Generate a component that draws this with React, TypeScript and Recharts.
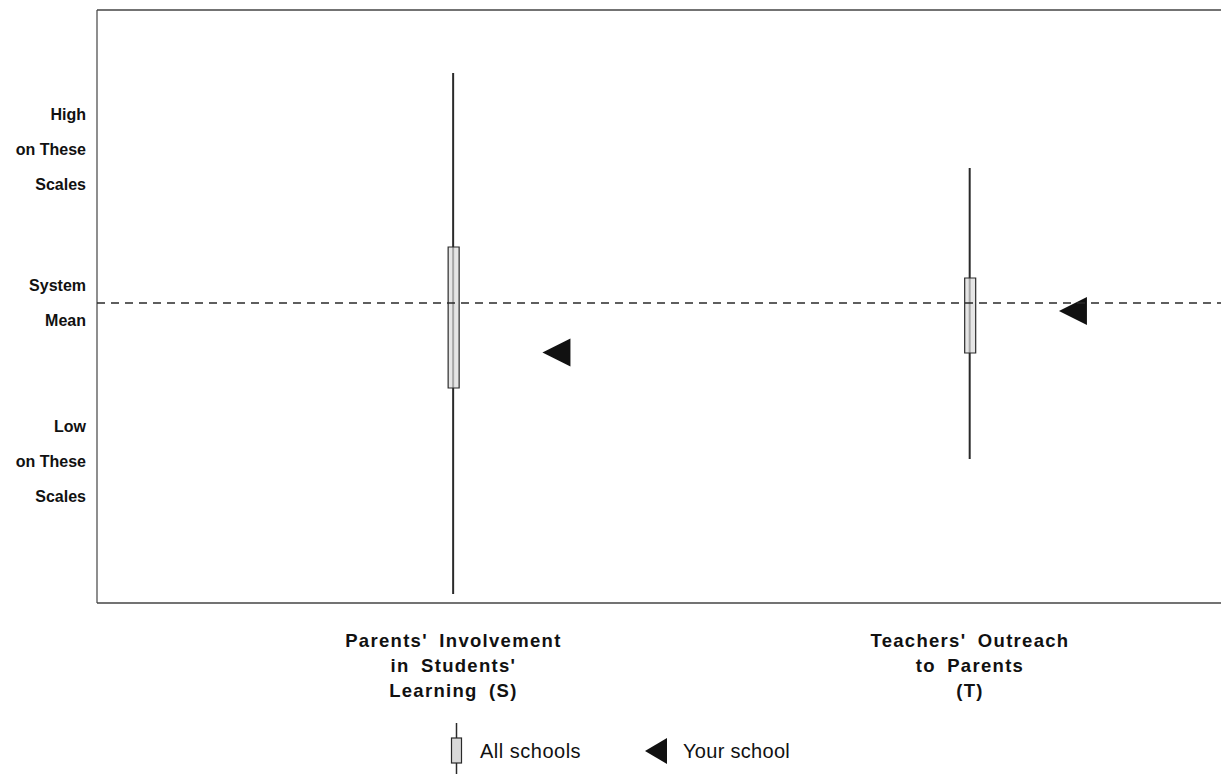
import React from 'react';
import { ComposedChart, Bar, Scatter, XAxis, YAxis, ReferenceLine, Legend } from 'recharts';

const categoryLines: string[][] = [
  ["Parents' Involvement", "in Students'", "Learning (S)"],
  ["Teachers' Outreach", "to Parents", "(T)"],
];
const categoryPositions = [1, 2];
const whiskerLow = [-2.91, -1.56];
const boxLow = [-0.85, -0.5];
const boxHigh = [0.56, 0.25];
const whiskerHigh = [2.3, 1.35];
const yourSchool = [-0.495, -0.08];
const systemMean = 0;
const yTickValues = [1.53, 0, -1.59];
const yTickLines: string[][] = [
  ['High', 'on These', 'Scales'],
  ['System', 'Mean'],
  ['Low', 'on These', 'Scales'],
];
const legendLabels = ['All schools', 'Your school'];

const data = categoryPositions.map((x, i) => ({
  x,
  whisker: [whiskerLow[i], whiskerHigh[i]],
  box: [boxLow[i], boxHigh[i]],
  school: yourSchool[i],
}));

const FONT = '"Liberation Sans", Arial, Helvetica, sans-serif';
const INK = '#2a2a2a';

const YTick = (props: any) => {
  const { x, y, payload } = props;
  const idx = yTickValues.findIndex((v) => Math.abs(v - payload.value) < 1e-6);
  const lines = idx >= 0 ? yTickLines[idx] : [];
  const n = lines.length;
  return (
    <g>
      {lines.map((l, k) => (
        <text
          key={k}
          x={x}
          y={y + (k - (n - 1) / 2) * 35 + 5}
          textAnchor="end"
          fontFamily={FONT}
          fontWeight="bold"
          fontSize={16}
          fill="#111"
        >
          {l}
        </text>
      ))}
    </g>
  );
};

const XTick = (props: any) => {
  const { x, y, payload } = props;
  const idx = categoryPositions.indexOf(payload.value);
  const lines = idx >= 0 ? categoryLines[idx] : [];
  return (
    <g>
      {lines.map((l, k) => (
        <text
          key={k}
          x={x}
          y={y + 44 + k * 25}
          textAnchor="middle"
          fontFamily={FONT}
          fontWeight="bold"
          fontSize={18.5}
          letterSpacing={1.3}
          wordSpacing={5}
          fill="#111"
        >
          {l}
        </text>
      ))}
    </g>
  );
};

const SchoolMarker = (props: any) => {
  const { cx, cy } = props;
  if (cx == null || cy == null) return null;
  const x = cx + 103;
  return <polygon points={`${x - 14},${cy} ${x + 14},${cy - 14} ${x + 14},${cy + 14}`} fill="#111" />;
};

const LegendContent = () => (
  <div style={{ position: 'relative', width: 1221, height: 59 }}>
    <svg width={1221} height={59} style={{ position: 'absolute', left: 0, top: 0 }}>
      <line x1={456.5} y1={8} x2={456.5} y2={59} stroke={INK} strokeWidth={1.5} />
      <rect x={451.5} y={23} width={10} height={25} fill="#dadada" stroke={INK} strokeWidth={1.2} />
      <text x={480} y={43} fontFamily={FONT} fontSize={20} letterSpacing={0.5} fill="#111">
        {legendLabels[0]}
      </text>
      <polygon points="645,36 667,23 667,49" fill="#111" />
      <text x={683} y={43} fontFamily={FONT} fontSize={20} letterSpacing={0.3} fill="#111">
        {legendLabels[1]}
      </text>
    </svg>
  </div>
);

export default function App() {
  return (
    <div style={{ position: 'absolute', left: 0, top: 0, width: 1221, height: 774, background: '#fff' }}>
      <ComposedChart
        width={1221}
        height={774}
        data={data}
        margin={{ top: 9, right: 0, bottom: 0, left: 0 }}
      >
        <XAxis
          xAxisId="main"
          dataKey="x"
          type="number"
          domain={[0.31, 2.486]}
          allowDataOverflow
          ticks={categoryPositions}
          height={171}
          axisLine={{ stroke: '#444', strokeWidth: 1.5 }}
          tickLine={false}
          tickSize={0}
          tickMargin={0}
          tick={<XTick />}
          interval={0}
        />
        <XAxis
          xAxisId="top"
          dataKey="x"
          type="number"
          orientation="top"
          domain={[0.31, 2.486]}
          allowDataOverflow
          ticks={categoryPositions}
          height={1}
          axisLine={{ stroke: '#444', strokeWidth: 1.5 }}
          tickLine={false}
          tick={false}
        />
        <YAxis
          type="number"
          domain={[-3.0, 2.93]}
          allowDataOverflow
          ticks={yTickValues}
          width={97}
          axisLine={{ stroke: '#444', strokeWidth: 1.2 }}
          tickLine={false}
          tickSize={0}
          tickMargin={11}
          tick={<YTick />}
          interval={0}
        />
        <Bar
          xAxisId="main"
          dataKey="whisker"
          barSize={2}
          fill={INK}
          isAnimationActive={false}
        />
        <Bar
          xAxisId="top"
          dataKey="box"
          barSize={11}
          fill="#dadada"
          fillOpacity={0.7}
          stroke={INK}
          strokeWidth={1.2}
          isAnimationActive={false}
        />
        <ReferenceLine
          xAxisId="main"
          y={systemMean}
          stroke={INK}
          strokeWidth={1.3}
          strokeDasharray="8 6"
          zIndex={1000}
        />
        <Scatter
          xAxisId="main"
          dataKey="school"
          shape={<SchoolMarker />}
          isAnimationActive={false}
        />
        <Legend
          layout="horizontal"
          verticalAlign="middle"
          align="center"
          content={<LegendContent />}
          wrapperStyle={{ position: 'absolute', left: 0, top: 715, width: 1221, height: 59 }}
        />
      </ComposedChart>
    </div>
  );
}
